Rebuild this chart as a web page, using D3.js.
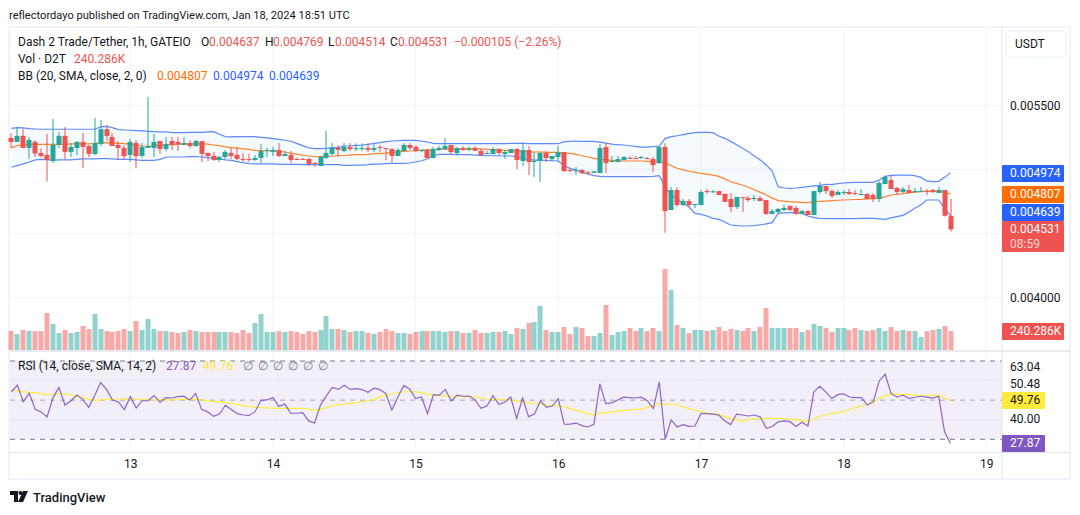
<!DOCTYPE html>
<html>
<head>
<meta charset="utf-8">
<script src="https://cdnjs.cloudflare.com/ajax/libs/d3/7.8.5/d3.min.js"></script>
<style>
  html, body { margin: 0; padding: 0; background: #fff; }
  svg { display: block; }
  text { font-family: Roboto, sans-serif; font-size: 12px; fill: #131722; }
</style>
</head>
<body>
<svg id="chart"></svg>
<script>
// prices are in millionths of a USDT
const openPrice = [
  5245,5214,5261,5167,5214,5128,5112,5065,5190,5261,
  5136,5167,5214,5182,5120,5198,5313,5253,5190,5167,
  5112,5206,5104,5167,5167,5221,5159,5221,5214,5190,
  5206,5182,5221,5128,5104,5073,5096,5128,5112,5081,
  5081,5073,5089,5143,5136,5151,5104,5112,5081,5081,
  5081,5050,5026,5089,5120,5167,5143,5174,5158,5158,
  5166,5151,5174,5166,5158,5104,5143,5190,5174,5143,
  5151,5088,5151,5158,5190,5127,5166,5151,5166,5143,
  5119,5119,5158,5119,5127,5158,5065,5151,5057,5065,
  5127,5080,5096,5135,4994,4986,4994,4976,4973,4971,
  5174,5057,5057,5072,5088,5088,5088,5088,5080,5049,
  5174,4682,4838,4721,4752,4721,4721,4830,4820,4830,
  4807,4768,4705,4784,4776,4768,4776,4760,4651,4666,
  4682,4713,4698,4651,4674,4643,4823,4870,4830,4799,
  4815,4823,4815,4799,4807,4799,4768,4885,4916,4854,
  4823,4838,4823,4823,4830,4838,4815,4838,4637];
const highPrice = [
  5281,5331,5320,5253,5229,5164,5276,5393,5292,5331,
  5206,5221,5284,5190,5401,5386,5346,5284,5221,5190,
  5237,5229,5206,5565,5276,5221,5253,5253,5253,5253,
  5229,5229,5221,5128,5136,5104,5151,5167,5175,5128,
  5120,5112,5198,5167,5175,5206,5143,5143,5089,5089,
  5089,5057,5104,5300,5206,5190,5205,5205,5203,5203,
  5205,5197,5190,5166,5166,5166,5205,5205,5190,5158,
  5158,5174,5182,5244,5190,5174,5182,5179,5182,5166,
  5143,5174,5166,5151,5158,5166,5213,5182,5135,5135,
  5143,5104,5182,5135,5002,5018,5002,4986,4986,5197,
  5205,5104,5104,5104,5104,5104,5104,5096,5096,5182,
  5203,4862,4862,4768,4768,4729,4838,4846,4838,4830,
  4815,4815,4784,4784,4791,4799,4791,4760,4690,4698,
  4721,4721,4713,4682,4682,4830,4901,4870,4846,4838,
  4838,4846,4838,4846,4815,4815,4909,4948,4948,4862,
  4862,4877,4854,4862,4846,4846,4862,4838,4769];
const lowPrice = [
  5164,5214,5167,5081,5096,5096,4904,5050,5167,5081,
  5096,5112,5011,5096,5112,5182,5221,5182,5073,5081,
  5057,5011,5089,5167,5096,5120,5143,5151,5143,5190,
  5167,5175,5057,5065,5065,5057,5081,5081,5073,5057,
  5057,5065,5050,5096,5104,5096,5104,5050,5073,5073,
  5026,5018,5026,5081,5112,5096,5135,5143,5143,5143,
  5135,5135,5135,5072,5057,5104,5143,5151,5135,5135,
  5088,5088,5143,5151,5111,5111,5143,5143,5143,5111,
  5119,5119,5111,5080,5127,5002,5026,4955,4940,4901,
  5057,5065,5065,4979,4979,4955,4963,4955,4971,4971,
  4971,5057,5057,5072,5080,5080,5080,5080,4979,5041,
  4505,4682,4705,4713,4705,4698,4721,4807,4815,4799,
  4745,4666,4690,4666,4745,4752,4752,4643,4651,4659,
  4674,4674,4643,4651,4643,4643,4807,4807,4776,4799,
  4799,4799,4799,4799,4768,4745,4745,4885,4846,4799,
  4815,4807,4815,4823,4799,4815,4815,4630,4514];
const closePrice = [
  5214,5261,5167,5229,5123,5104,5073,5190,5261,5136,
  5175,5214,5175,5120,5206,5313,5261,5182,5167,5104,
  5214,5104,5175,5182,5214,5159,5198,5190,5198,5206,
  5182,5221,5120,5104,5073,5096,5136,5104,5081,5073,
  5073,5089,5143,5151,5151,5104,5120,5073,5073,5073,
  5042,5042,5096,5128,5167,5151,5174,5158,5166,5166,
  5151,5166,5166,5158,5104,5151,5190,5166,5143,5151,
  5088,5158,5166,5182,5135,5166,5151,5161,5145,5111,
  5127,5158,5127,5135,5158,5072,5151,5057,5065,5127,
  5088,5104,5135,4986,4986,4994,4971,4968,4984,5166,
  5049,5065,5080,5096,5080,5080,5096,5080,5033,5174,
  4674,4838,4721,4752,4721,4729,4823,4823,4828,4799,
  4745,4705,4784,4776,4760,4776,4752,4651,4674,4690,
  4698,4682,4651,4674,4643,4830,4870,4830,4791,4823,
  4823,4807,4807,4807,4768,4768,4893,4940,4846,4823,
  4846,4815,4830,4830,4823,4823,4838,4637,4531];

const bbUpper = [
  5320,5326,5323,5318,5315,5313,5313,5313,5313,5313,
  5313,5313,5313,5313,5313,5331,5336,5326,5310,5307,
  5305,5302,5300,5297,5294,5292,5292,5287,5287,5287,
  5289,5289,5289,5292,5294,5274,5255,5253,5255,5255,
  5255,5255,5250,5245,5240,5234,5227,5219,5203,5185,
  5167,5162,5162,5164,5169,5172,5182,5184,5187,5190,
  5195,5203,5208,5216,5221,5223,5226,5226,5226,5221,
  5213,5203,5200,5200,5200,5200,5200,5200,5200,5200,
  5200,5200,5200,5200,5203,5203,5203,5200,5200,5200,
  5200,5200,5200,5216,5218,5221,5218,5218,5218,5213,
  5205,5197,5192,5190,5184,5179,5174,5174,5177,5182,
  5242,5255,5262,5271,5281,5286,5289,5289,5286,5260,
  5242,5218,5192,5164,5138,5104,5073,5034,4987,4864,
  4854,4851,4854,4859,4864,4870,4875,4883,4880,4888,
  4893,4896,4898,4898,4898,4898,4916,4945,4953,4955,
  4955,4955,4950,4937,4909,4903,4906,4937,4974];
const bbBasis = [
  5169,5185,5193,5195,5195,5195,5195,5195,5195,5195,
  5198,5198,5198,5198,5200,5206,5208,5205,5203,5200,
  5196,5190,5182,5180,5185,5187,5190,5192,5195,5198,
  5198,5198,5198,5196,5190,5185,5175,5170,5165,5160,
  5155,5148,5146,5145,5143,5140,5135,5125,5118,5110,
  5104,5100,5099,5101,5104,5108,5108,5111,5114,5114,
  5117,5122,5124,5127,5132,5135,5140,5143,5145,5148,
  5151,5153,5156,5158,5158,5158,5161,5161,5161,5158,
  5156,5153,5151,5148,5145,5143,5140,5137,5135,5135,
  5132,5132,5132,5127,5124,5117,5106,5096,5085,5078,
  5075,5070,5067,5065,5065,5065,5065,5062,5059,5057,
  5047,5030,5008,4995,4985,4976,4968,4962,4955,4945,
  4925,4903,4890,4875,4860,4840,4820,4799,4775,4755,
  4752,4748,4744,4741,4739,4747,4750,4752,4755,4758,
  4760,4762,4764,4765,4768,4770,4773,4785,4799,4805,
  4810,4818,4822,4825,4830,4830,4828,4822,4807];
const bbLower = [
  5016,5029,5042,5057,5073,5078,5075,5070,5073,5073,
  5073,5078,5081,5081,5081,5083,5083,5081,5078,5078,
  5078,5073,5070,5070,5070,5078,5094,5096,5096,5096,
  5099,5099,5096,5091,5086,5081,5073,5070,5060,5050,
  5044,5042,5042,5042,5042,5039,5039,5039,5039,5037,
  5037,5037,5037,5037,5037,5037,5031,5031,5033,5033,
  5036,5041,5041,5044,5046,5046,5046,5049,5057,5067,
  5080,5106,5117,5117,5117,5114,5114,5114,5111,5109,
  5106,5106,5106,5104,5104,5096,5088,5078,5072,5072,
  5070,5067,5065,5026,5007,4994,4973,4963,4950,4945,
  4942,4942,4942,4942,4942,4942,4942,4942,4945,4950,
  4860,4800,4770,4735,4705,4656,4648,4635,4617,4609,
  4588,4565,4560,4557,4557,4560,4567,4573,4583,4656,
  4659,4661,4661,4656,4635,4622,4617,4614,4614,4614,
  4614,4614,4614,4617,4617,4617,4612,4609,4620,4630,
  4640,4666,4695,4721,4760,4760,4760,4695,4639];

// volume in thousands of D2T
const volume = [
  240,202,253,240,240,240,468,329,215,253,
  215,228,304,266,455,266,240,228,240,266,
  240,367,253,392,266,240,240,228,215,228,
  253,240,228,228,228,228,228,228,215,253,
  215,342,455,228,228,240,228,240,228,202,
  240,228,253,430,266,266,253,228,240,240,
  215,202,228,266,240,215,215,202,228,240,
  240,240,240,228,240,240,215,215,253,215,
  215,228,228,240,202,278,266,342,354,557,
  253,228,228,291,202,291,278,177,177,215,
  569,190,228,240,278,240,278,240,278,240,
  1024,759,316,278,215,253,253,240,253,291,
  240,266,253,240,278,240,291,531,278,278,
  278,278,278,228,253,329,304,278,228,278,
  278,253,278,253,240,253,278,240,291,240,
  253,240,240,164,240,253,266,304,240];

const rsiValues = [
  54.3,57.7,49.2,53.5,45.3,44.0,41.4,51.3,56.5,47.5,
  49.6,52.6,50.4,46.3,52.3,59.0,55.5,50.1,49.1,45.2,
  51.8,46.0,49.7,49.7,52.3,48.9,51.3,51.1,51.8,52.0,
  50.1,53.3,45.3,44.0,41.7,42.9,47.4,45.2,43.1,42.4,
  42.2,44.1,49.9,50.1,51.3,46.8,48.0,43.3,43.3,43.6,
  39.4,38.3,47.5,52.3,56.5,55.5,57.6,55.5,55.9,55.4,
  54.0,56.1,55.4,53.3,45.0,51.5,57.4,55.7,50.8,51.6,
  43.1,52.8,52.6,55.5,49.6,52.6,52.0,52.1,50.1,45.8,
  47.0,52.3,47.9,48.9,51.6,40.7,51.1,41.6,42.9,49.6,
  46.3,47.0,50.8,37.7,37.8,38.3,37.0,36.3,37.7,58.3,
  48.2,48.6,50.1,51.5,51.3,51.1,51.5,49.7,45.7,59.3,
  30.0,39.9,36.3,37.5,36.6,36.8,43.1,43.1,42.9,42.4,
  39.5,37.5,42.9,42.4,41.9,42.4,41.4,35.6,36.5,38.9,
  39.4,39.0,36.5,38.7,36.8,54.2,57.1,54.2,50.8,52.8,
  53.2,51.6,51.3,51.3,47.5,49.2,59.8,63.2,53.3,51.5,
  52.6,50.8,51.5,52.0,51.5,51.0,52.0,33.7,27.87];
const rsiMa = [
  55.2,54.7,54.2,54.0,53.8,53.3,52.6,53.0,53.5,53.2,
  52.6,52.1,51.3,50.4,49.9,50.1,50.4,50.6,50.6,50.8,
  50.8,50.6,50.2,50.2,50.1,50.1,50.1,50.2,50.2,50.4,
  50.4,50.4,50.1,49.7,49.4,49.1,48.7,48.2,47.7,47.2,
  46.7,46.3,46.2,46.0,46.0,45.8,45.8,45.8,45.8,45.8,
  45.3,44.8,45.3,46.2,47.0,47.7,47.9,48.4,48.7,49.2,
  49.7,50.4,51.8,52.5,53.0,53.8,54.3,54.3,54.2,53.8,
  53.0,52.6,52.5,52.3,52.1,52.0,51.8,51.8,51.6,51.1,
  50.6,50.4,50.2,50.2,50.1,49.6,49.1,48.6,48.2,47.9,
  47.5,47.4,47.2,46.5,45.7,44.8,44.0,43.1,42.4,43.4,
  43.6,44.0,44.5,44.6,45.0,45.3,45.5,46.3,47.2,48.2,
  48.0,47.9,47.9,46.5,45.7,44.8,44.0,43.4,43.1,42.6,
  41.6,40.7,39.9,39.2,40.0,40.4,40.6,40.7,40.7,40.7,
  40.4,40.2,39.9,39.5,39.0,40.4,41.7,42.4,43.1,43.6,
  44.1,45.2,46.2,47.0,47.9,48.7,50.9,52.3,53.3,53.1,
  53.0,52.8,52.6,52.5,52.5,52.3,52.3,51.1,49.76];

const priceTicks = [5500, 5000, 4500, 4000];
const priceLabelTicks = [5500, 4000];
const rsiGrid = [60, 40];
const rsiBands = [70, 50, 30];
const rsiScaleLabels = ["63.04", "50.48", "40.00"];
const dayTicks = [13, 14, 15, 16, 17, 18, 19];

const width = 1080;
const height = 515;
const red = "#ef5350";
const green = "#26a69a";
const plotLeft = 10;
const plotRight = 1002;

const firstBar = Date.UTC(2024, 0, 12, 4);
const barTime = (i) => new Date(firstBar + i * 3600000);
const bars = closePrice.map((c, i) => ({
  i,
  date: barTime(i),
  open: openPrice[i],
  high: highPrice[i],
  low: lowPrice[i],
  close: c,
  volume: volume[i],
  upper: bbUpper[i],
  basis: bbBasis[i],
  lower: bbLower[i],
  rsi: rsiValues[i],
  rsiMa: rsiMa[i],
  color: c >= openPrice[i] ? green : red,
}));

const x = d3
  .scaleUtc()
  .domain([new Date(Date.UTC(2024, 0, 13)), new Date(Date.UTC(2024, 0, 19))])
  .range([130.3, 986.2]);
const y = d3.scaleLinear().domain([5500, 4000]).range([105.3, 297.3]);
const yVolume = d3.scaleLinear().domain([0, 1024]).range([350, 269]);
const yRsi = d3.scaleLinear().domain([70, 30]).range([361, 439.3]);

const svg = d3.select("#chart").attr("width", width).attr("height", height);

// chart frame
svg.append("rect").attr("x", 9).attr("y", 27).attr("width", 1061).attr("height", 452)
  .attr("fill", "#fff").attr("stroke", "#f0f3fa").attr("stroke-width", 2);

// rsi background
svg.append("rect")
  .attr("x", plotLeft).attr("width", plotRight - plotLeft)
  .attr("y", yRsi(70)).attr("height", yRsi(30) - yRsi(70))
  .attr("fill", "#f2eff9");

// grid
svg.selectAll(".hgrid").data(priceTicks).enter().append("line")
  .attr("class", "hgrid")
  .attr("x1", plotLeft).attr("x2", plotRight)
  .attr("y1", (d) => y(d)).attr("y2", (d) => y(d))
  .attr("stroke", "#f0f3fa");
svg.selectAll(".rgrid").data(rsiGrid).enter().append("line")
  .attr("class", "rgrid")
  .attr("x1", plotLeft).attr("x2", plotRight)
  .attr("y1", (d) => yRsi(d)).attr("y2", (d) => yRsi(d))
  .attr("stroke", "#e6e3ef");
svg.selectAll(".vgrid").data(dayTicks).enter().append("line")
  .attr("class", "vgrid")
  .attr("x1", (d) => x(Date.UTC(2024, 0, d))).attr("x2", (d) => x(Date.UTC(2024, 0, d)))
  .attr("y1", 27).attr("y2", 452)
  .attr("stroke", "#f0f3fa").attr("stroke-opacity", 0.9);

// rsi band lines
svg.selectAll(".band").data(rsiBands).enter().append("line")
  .attr("class", "band")
  .attr("x1", plotLeft).attr("x2", plotRight)
  .attr("y1", (d) => yRsi(d)).attr("y2", (d) => yRsi(d))
  .attr("stroke", (d) => (d === 50 ? "#aaa7b3" : "#787b86"))
  .attr("stroke-dasharray", "5,5");

// pane separators
svg.append("line").attr("x1", plotLeft).attr("x2", 1070).attr("y1", 351).attr("y2", 351)
  .attr("stroke", "#e0e3eb").attr("stroke-width", 1.5);
svg.append("line").attr("x1", plotLeft).attr("x2", 1070).attr("y1", 452.5).attr("y2", 452.5)
  .attr("stroke", "#e0e3eb");
svg.append("line").attr("x1", plotRight).attr("x2", plotRight).attr("y1", 27).attr("y2", 479)
  .attr("stroke", "#e0e3eb");

// volume
svg.selectAll(".vol").data(bars).enter().append("rect")
  .attr("class", "vol")
  .attr("x", (d) => Math.round(x(d.date)) - 2.5)
  .attr("width", 5)
  .attr("y", (d) => yVolume(d.volume))
  .attr("height", (d) => yVolume(0) - yVolume(d.volume))
  .attr("fill", (d) => d.color)
  .attr("opacity", 0.5);

// bollinger bands
const bandArea = d3.area().x((d) => x(d.date)).y0((d) => y(d.lower)).y1((d) => y(d.upper));
svg.append("path").datum(bars).attr("d", bandArea).attr("fill", "#2196f3").attr("fill-opacity", 0.05);

const bbLine = (key, color, opacity) => {
  const line = d3.line().x((d) => x(d.date)).y((d) => y(d[key]));
  svg.append("path").datum(bars).attr("d", line)
    .attr("fill", "none").attr("stroke", color).attr("stroke-width", 1.2).attr("stroke-opacity", opacity);
};
bbLine("upper", "#2962ff", 0.75);
bbLine("lower", "#2962ff", 0.75);
bbLine("basis", "#ff6d00", 0.85);

// candles
svg.selectAll(".wick").data(bars).enter().append("rect")
  .attr("class", "wick")
  .attr("x", (d) => Math.round(x(d.date)) - 0.5)
  .attr("width", 1)
  .attr("y", (d) => y(d.high))
  .attr("height", (d) => y(d.low) - y(d.high))
  .attr("fill", (d) => d.color);
svg.selectAll(".body").data(bars).enter().append("rect")
  .attr("class", "body")
  .attr("x", (d) => Math.round(x(d.date)) - 2.5)
  .attr("width", 5)
  .attr("y", (d) => y(Math.max(d.open, d.close)))
  .attr("height", (d) => Math.max(1, Math.abs(y(d.open) - y(d.close))))
  .attr("fill", (d) => d.color);

// rsi lines
const rsiLine = d3.line().x((d) => x(d.date)).y((d) => yRsi(d.rsi));
const rsiMaLine = d3.line().x((d) => x(d.date)).y((d) => yRsi(d.rsiMa));
svg.append("path").datum(bars).attr("d", rsiMaLine)
  .attr("fill", "none").attr("stroke", "#ffeb3b").attr("stroke-width", 1.2);
svg.append("path").datum(bars).attr("d", rsiLine)
  .attr("fill", "none").attr("stroke", "#7e57c2").attr("stroke-width", 1.2).attr("stroke-opacity", 0.9);

// axes
const priceAxis = d3.axisRight(y)
  .tickValues(priceLabelTicks)
  .tickSize(0)
  .tickPadding(8)
  .tickFormat((d) => (d / 1e6).toFixed(6));
svg.append("g").attr("transform", `translate(${plotRight},0)`).call(priceAxis)
  .call((g) => g.select(".domain").remove());

const timeAxis = d3.axisBottom(x)
  .tickValues(dayTicks.map((d) => new Date(Date.UTC(2024, 0, d))))
  .tickSize(0)
  .tickPadding(7)
  .tickFormat(d3.utcFormat("%-d"));
svg.append("g").attr("transform", "translate(0,452)").call(timeAxis)
  .call((g) => g.select(".domain").remove());

svg.selectAll(".tick text").style("font-family", "Roboto, sans-serif").style("font-size", "12px").attr("fill", "#131722");

const label = (tx, ty, str, color, extra) => {
  const t = svg.append("text").attr("x", tx).attr("y", ty).attr("dy", "0.35em").text(str);
  t.style("fill", color || "#131722");
  if (extra) extra(t);
  return t;
};

// rsi scale labels
const rsiLabelY = [367, 384, 419];
rsiScaleLabels.forEach((s, i) => label(1010, rsiLabelY[i], s));

// header texts
label(9, 15, "reflectordayo published on TradingView.com, Jan 18, 2024 18:51 UTC", "#131722", (t) => t.style("font-size", "11.1px"));
label(18, 42, "Dash 2 Trade/Tether, 1h, GATEIO");
[
  [201, "O", 209, "0.004637"],
  [265, "H", 273, "0.004769"],
  [328, "L", 335, "0.004514"],
  [390, "C", 398, "0.004531"],
].forEach((r) => {
  label(r[0], 42, r[1]);
  label(r[2], 42, r[3], red);
});
label(454, 42, "\u22120.000105 (\u22122.26%)", red);
label(18, 59, "Vol \u00b7 D2T");
label(74, 59, "240.286K", red);
label(18, 76, "BB (20, SMA, close, 2, 0)");
label(157, 76, "0.004807", "#ff6d00");
label(213, 76, "0.004974", "#2962ff");
label(269, 76, "0.004639", "#2962ff");

label(18, 366, "RSI (14, close, SMA, 14, 2)");
label(166, 366, "27.87", "#7e57c2");
label(203, 366, "49.76", "#ffeb3b");
[243, 258, 273, 288, 303, 318].forEach((px) => label(px, 366, "\u2205", "#787b86"));

// currency button
svg.append("rect").attr("x", 1006).attr("y", 31).attr("width", 60).attr("height", 26).attr("rx", 4)
  .attr("fill", "#fff").attr("stroke", "#f0f3fa").attr("stroke-width", 1.5);
label(1015, 44, "USDT");

// value badges
const badge = (top, h, w, color, lines, textColor) => {
  svg.append("rect").attr("x", plotRight).attr("y", top).attr("width", w).attr("height", h)
    .attr("rx", 1).attr("fill", color);
  lines.forEach((s, i) => {
    const t = label(1010, top + 8 + i * 14.5, s, textColor || "#fff");
    if (i > 0) t.style("opacity", 0.75);
  });
};
badge(165, 17, 62, "#2962ff", ["0.004974"]);
badge(186, 17, 62, "#ff6d00", ["0.004807"]);
badge(204, 17, 62, "#2962ff", ["0.004639"]);
badge(221, 31, 62, red, ["0.004531", "08:59"]);
badge(323, 17, 62, red, ["240.286K"]);
badge(392, 17, 43, "#ffeb3b", ["49.76"], "#131722");
badge(435, 17, 43, "#7e57c2", ["27.87"]);

// footer logo
const logo = svg.append("g").attr("transform", "translate(10,491)").attr("fill", "#131722");
logo.append("path").attr("d", "M0 0H8V11H4V4H0Z");
logo.append("circle").attr("cx", 10.5).attr("cy", 2).attr("r", 2);
logo.append("path").attr("d", "M13 0H18L13 11H8Z");
label(33, 497, "TradingView", "#131722", (t) => t.style("font-size", "13px").style("font-weight", 500));
</script>
</body>
</html>
